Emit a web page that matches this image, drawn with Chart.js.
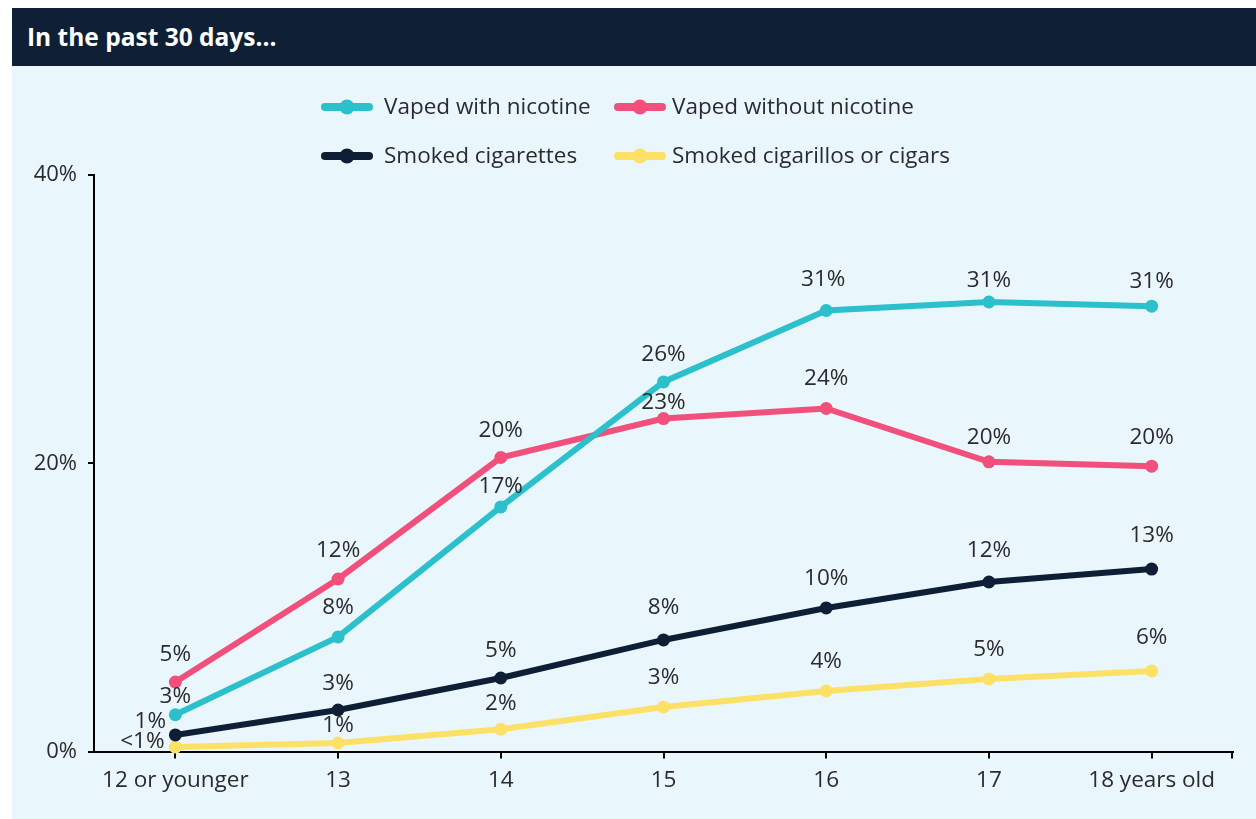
<!DOCTYPE html>
<html>
<head>
<meta charset="utf-8">
<script src="https://cdn.jsdelivr.net/npm/chart.js@4/dist/chart.umd.min.js"></script>
<style>
  html, body { margin: 0; padding: 0; background: #ffffff; }
  body { width: 1256px; height: 819px; position: relative; overflow: hidden; font-family: "Open Sans", "Noto Sans", sans-serif; }
  #header {
    position: absolute; left: 12px; top: 8px; width: 1244px; height: 58px;
    background: #0f1f35; color: #ffffff; font-weight: 700; font-size: 24.5px;
    line-height: 58px; padding-left: 15px; box-sizing: border-box;
  }
  #panel {
    position: absolute; left: 12px; top: 66px; width: 1244px; height: 753px;
    background: #e9f6fc;
  }
  #chart { display: block; }
</style>
</head>
<body>
<div id="header">In the past 30 days...</div>
<div id="panel"><canvas id="chart" width="1244" height="753"></canvas></div>
<script>
// Age groups along the x axis
const ageGroups = ['12 or younger', '13', '14', '15', '16', '17', '18 years old'];

// Share of students (%) by age group
const vapedWithNicotine    = [2.55, 7.95, 16.97, 25.64, 30.6, 31.19, 30.9];
const vapedWithoutNicotine = [4.82, 11.97, 20.4, 23.1, 23.8, 20.1, 19.8];
const smokedCigarettes     = [1.15, 2.88, 5.1, 7.74, 9.96, 11.76, 12.66];
const smokedCigarillos     = [0.31, 0.59, 1.55, 3.09, 4.2, 5.03, 5.59];

// Y axis tick values
const yTicks = [0, 20, 40];

const seriesNames = ['Vaped with nicotine', 'Vaped without nicotine', 'Smoked cigarettes', 'Smoked cigarillos or cigars'];
const seriesColors = ['#2bc0cb', '#f0507b', '#0e1f35', '#fde066'];

// Label placement: pixels above the point (dy) and horizontal shift (dx)
const labelDy = [
  [18, 29, 20, 27, 31, 21, 25],
  [27, 28, 27, 16, 30, 24, 29],
  [13, 26, 27, 32, 29, 31, 33],
  [5, 17, 26, 29, 29, 29, 33]
];
const labelDx = [
  [0, 0, 0, 0, -3, 0, 0],
  [0, 0, 0, 0, 0, 0, 0],
  [-25, 0, 0, 0, 0, 0, 0],
  [-33, 0, 0, 0, 0, 0, 0]
];

const TEXT = '#2b2b2b';
const FONT = '"Open Sans", "Noto Sans", sans-serif';

function pctLabel(v) {
  const r = Math.round(v);
  return r < 1 ? '<1%' : r + '%';
}

const valueLabels = {
  id: 'valueLabels',
  afterDatasetsDraw(chart) {
    const ctx = chart.ctx;
    ctx.save();
    ctx.font = '22.5px ' + FONT;
    ctx.fillStyle = TEXT;
    ctx.textAlign = 'center';
    ctx.textBaseline = 'middle';
    chart.data.datasets.forEach((ds, i) => {
      const meta = chart.getDatasetMeta(i);
      meta.data.forEach((pt, j) => {
        ctx.fillText(pctLabel(ds.data[j]), pt.x + labelDx[i][j], pt.y - labelDy[i][j]);
      });
    });
    ctx.restore();
  }
};

const customLegend = {
  id: 'customLegend',
  afterDraw(chart) {
    const ctx = chart.ctx;
    const colX = [335, 628];
    const textX = [372, 660];
    const rowY = [41, 90];
    ctx.save();
    ctx.font = '22.5px ' + FONT;
    ctx.textBaseline = 'middle';
    ctx.textAlign = 'left';
    chart.data.datasets.forEach((ds, i) => {
      const cx = colX[i % 2], cy = rowY[Math.floor(i / 2)];
      ctx.strokeStyle = ds.borderColor;
      ctx.lineWidth = 8;
      ctx.lineCap = 'round';
      ctx.beginPath();
      ctx.moveTo(cx - 22, cy);
      ctx.lineTo(cx + 22, cy);
      ctx.stroke();
      ctx.fillStyle = ds.borderColor;
      ctx.beginPath();
      ctx.arc(cx, cy, 7.5, 0, Math.PI * 2);
      ctx.fill();
      ctx.fillStyle = TEXT;
      ctx.fillText(ds.label, textX[i % 2], cy + 1);
    });
    ctx.restore();
  }
};

// Closing tick at the right end of the x axis
const axisEndTick = {
  id: 'axisEndTick',
  afterDraw(chart) {
    const { ctx, chartArea } = chart;
    ctx.save();
    ctx.strokeStyle = '#000000';
    ctx.lineWidth = 2;
    ctx.beginPath();
    ctx.moveTo(chartArea.right - 1, chartArea.bottom);
    ctx.lineTo(chartArea.right - 1, chartArea.bottom + 7);
    ctx.stroke();
    ctx.restore();
  }
};

const seriesData = [vapedWithNicotine, vapedWithoutNicotine, smokedCigarettes, smokedCigarillos];

new Chart(document.getElementById('chart'), {
  type: 'line',
  data: {
    labels: ageGroups,
    datasets: seriesData.map((d, i) => ({
      label: seriesNames[i],
      data: d,
      borderColor: seriesColors[i],
      backgroundColor: seriesColors[i],
      pointBackgroundColor: seriesColors[i],
      pointBorderColor: seriesColors[i],
      borderWidth: 6,
      pointRadius: 6.5,
      pointBorderWidth: 0,
      tension: 0,
      clip: false,
      fill: false
    }))
  },
  options: {
    responsive: false,
    animation: false,
    events: [],
    layout: { padding: { top: 109, right: 23, bottom: 0, left: 0 } },
    plugins: { legend: { display: false }, tooltip: { enabled: false } },
    scales: {
      x: {
        offset: true,
        border: { display: true, color: '#000000', width: 2 },
        grid: { display: true, drawOnChartArea: false, drawTicks: true, tickLength: 7, color: '#000000', lineWidth: 2 },
        ticks: { color: TEXT, font: { family: FONT, size: 22.5 }, padding: 9, maxRotation: 0, autoSkip: false },
        afterFit(scale) { scale.height = 67.5; }
      },
      y: {
        min: 0,
        max: 40,
        afterBuildTicks(scale) { scale.ticks = yTicks.map(v => ({ value: v })); },
        border: { display: true, color: '#000000', width: 2 },
        grid: { display: true, drawOnChartArea: false, drawTicks: true, tickLength: 6, color: '#000000', lineWidth: 2 },
        ticks: { color: TEXT, font: { family: FONT, size: 22 }, padding: 11, callback: v => v + '%' },
        afterFit(scale) { scale.width = 82; }
      }
    }
  },
  plugins: [valueLabels, customLegend, axisEndTick]
});
</script>
</body>
</html>
